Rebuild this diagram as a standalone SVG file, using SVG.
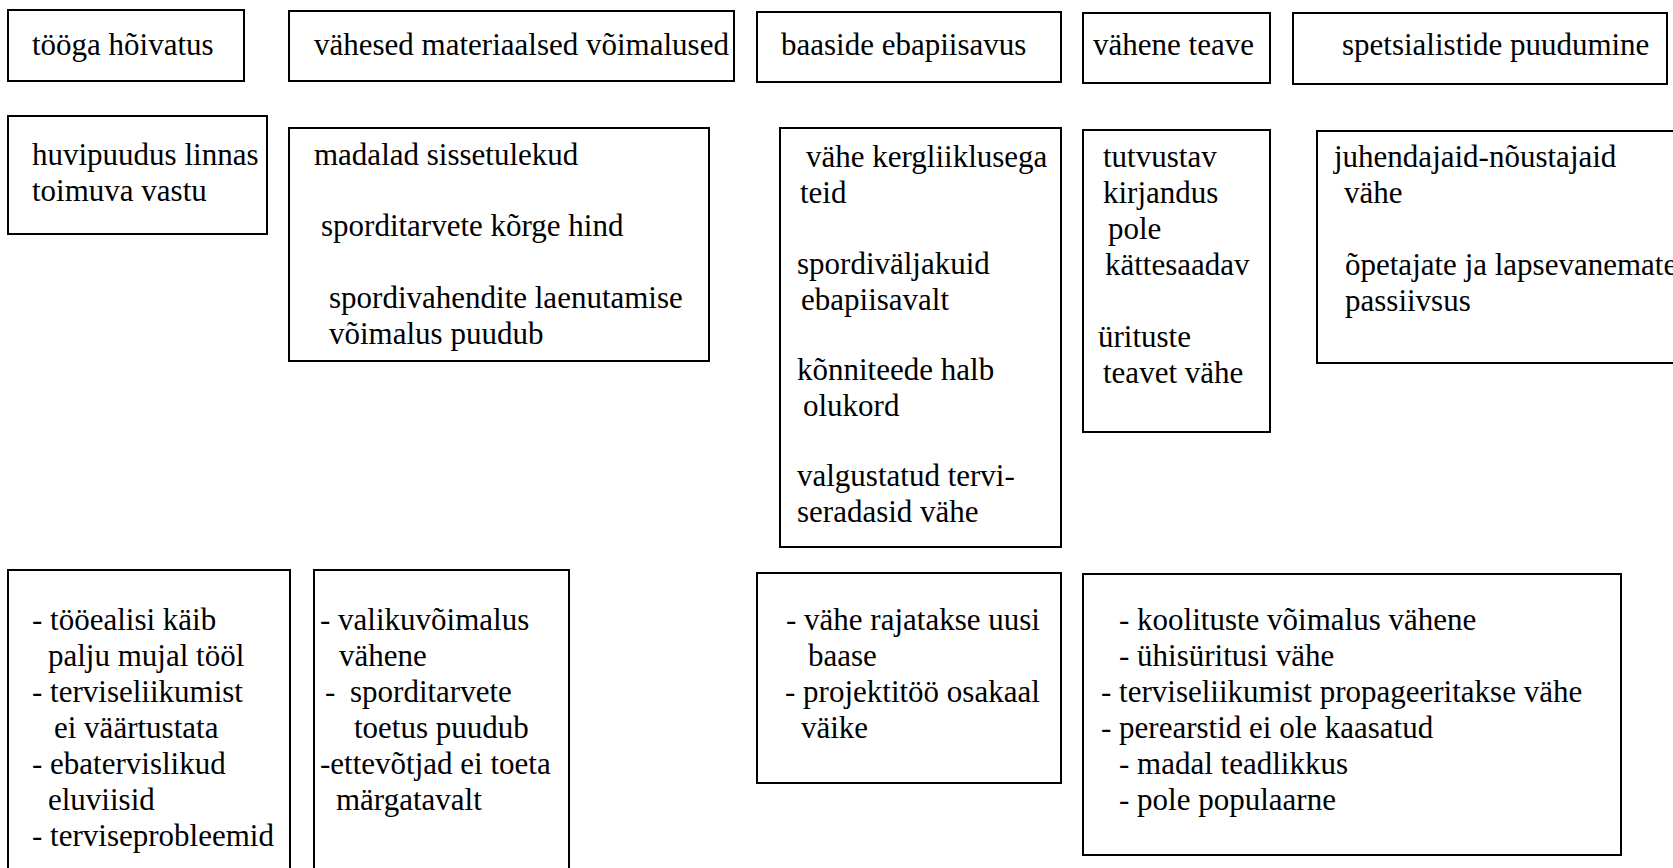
<svg xmlns="http://www.w3.org/2000/svg" width="1673" height="868" viewBox="0 0 1673 868">
<style>
rect.box{fill:#fff;stroke:#000;stroke-width:2}
text{font-family:"Liberation Serif","Times New Roman",serif;font-size:31px;fill:#000;white-space:pre}
</style>
<rect x="0" y="0" width="1673" height="868" fill="#fff"/>
<g id="connectors"></g>
<g id="n-tooga"><rect class="box" x="8" y="10" width="236" height="71"/><text x="32" y="55">tööga hõivatus</text></g>
<g id="n-vahesed"><rect class="box" x="289" y="11" width="445" height="70"/><text x="314" y="55">vähesed materiaalsed võimalused</text></g>
<g id="n-baaside"><rect class="box" x="757" y="12" width="304" height="70"/><text x="781" y="55">baaside ebapiisavus</text></g>
<g id="n-teave"><rect class="box" x="1083" y="13" width="187" height="70"/><text x="1093" y="55">vähene teave</text></g>
<g id="n-spets"><rect class="box" x="1293" y="13" width="374" height="71"/><text x="1342" y="55">spetsialistide puudumine</text></g>

<g id="n-huvi"><rect class="box" x="8" y="116" width="259" height="118"/><text x="32" y="165">huvipuudus linnas</text><text x="32" y="201">toimuva vastu</text></g>
<g id="n-madalad"><rect class="box" x="289" y="128" width="420" height="233"/><text x="314" y="165">madalad sissetulekud</text><text x="321" y="236">sporditarvete kõrge hind</text><text x="329" y="308">spordivahendite laenutamise</text><text x="329" y="344">võimalus puudub</text></g>
<g id="n-kergliiklus"><rect class="box" x="780" y="128" width="281" height="419"/><text x="806" y="167">vähe kergliiklusega</text><text x="800" y="203">teid</text><text x="797" y="274">spordiväljakuid</text><text x="801" y="310">ebapiisavalt</text><text x="797" y="380">kõnniteede halb</text><text x="803" y="416">olukord</text><text x="797" y="486">valgustatud tervi-</text><text x="797" y="522">seradasid vähe</text></g>
<g id="n-tutvustav"><rect class="box" x="1083" y="130" width="187" height="302"/><text x="1103" y="167">tutvustav</text><text x="1103" y="203">kirjandus</text><text x="1108" y="239">pole</text><text x="1105" y="275">kättesaadav</text><text x="1098" y="347">ürituste</text><text x="1103" y="383">teavet vähe</text></g>
<g id="n-juhendajaid"><rect class="box" x="1317" y="131" width="380" height="232"/><text x="1334" y="167">juhendajaid-nõustajaid</text><text x="1344" y="203">vähe</text><text x="1345" y="275">õpetajate ja lapsevanemate</text><text x="1345" y="311">passiivsus</text></g>

<g id="n-tooealisi"><rect class="box" x="8" y="570" width="282" height="320"/><text x="32" y="630">- tööealisi käib</text><text x="48" y="666">palju mujal tööl</text><text x="32" y="702">- terviseliikumist</text><text x="54" y="738">ei väärtustata</text><text x="32" y="774">- ebatervislikud</text><text x="48" y="810">eluviisid</text><text x="32" y="846">- terviseprobleemid</text></g>
<g id="n-valiku"><rect class="box" x="314" y="570" width="255" height="320"/><text x="320" y="630">- valikuvõimalus</text><text x="339" y="666">vähene</text><text x="325" y="702">-</text><text x="350" y="702">sporditarvete</text><text x="354" y="738">toetus puudub</text><text x="320" y="774">-ettevõtjad ei toeta</text><text x="336" y="810">märgatavalt</text></g>
<g id="n-rajatakse"><rect class="box" x="757" y="573" width="304" height="210"/><text x="786" y="630">- vähe rajatakse uusi</text><text x="808" y="666">baase</text><text x="785" y="702">- projektitöö osakaal</text><text x="801" y="738">väike</text></g>
<g id="n-koolituste"><rect class="box" x="1083" y="574" width="538" height="281"/><text x="1119" y="630">- koolituste võimalus vähene</text><text x="1119" y="666">- ühisüritusi vähe</text><text x="1101" y="702">- terviseliikumist propageeritakse vähe</text><text x="1101" y="738">- perearstid ei ole kaasatud</text><text x="1119" y="774">- madal teadlikkus</text><text x="1119" y="810">- pole populaarne</text></g>
</svg>
